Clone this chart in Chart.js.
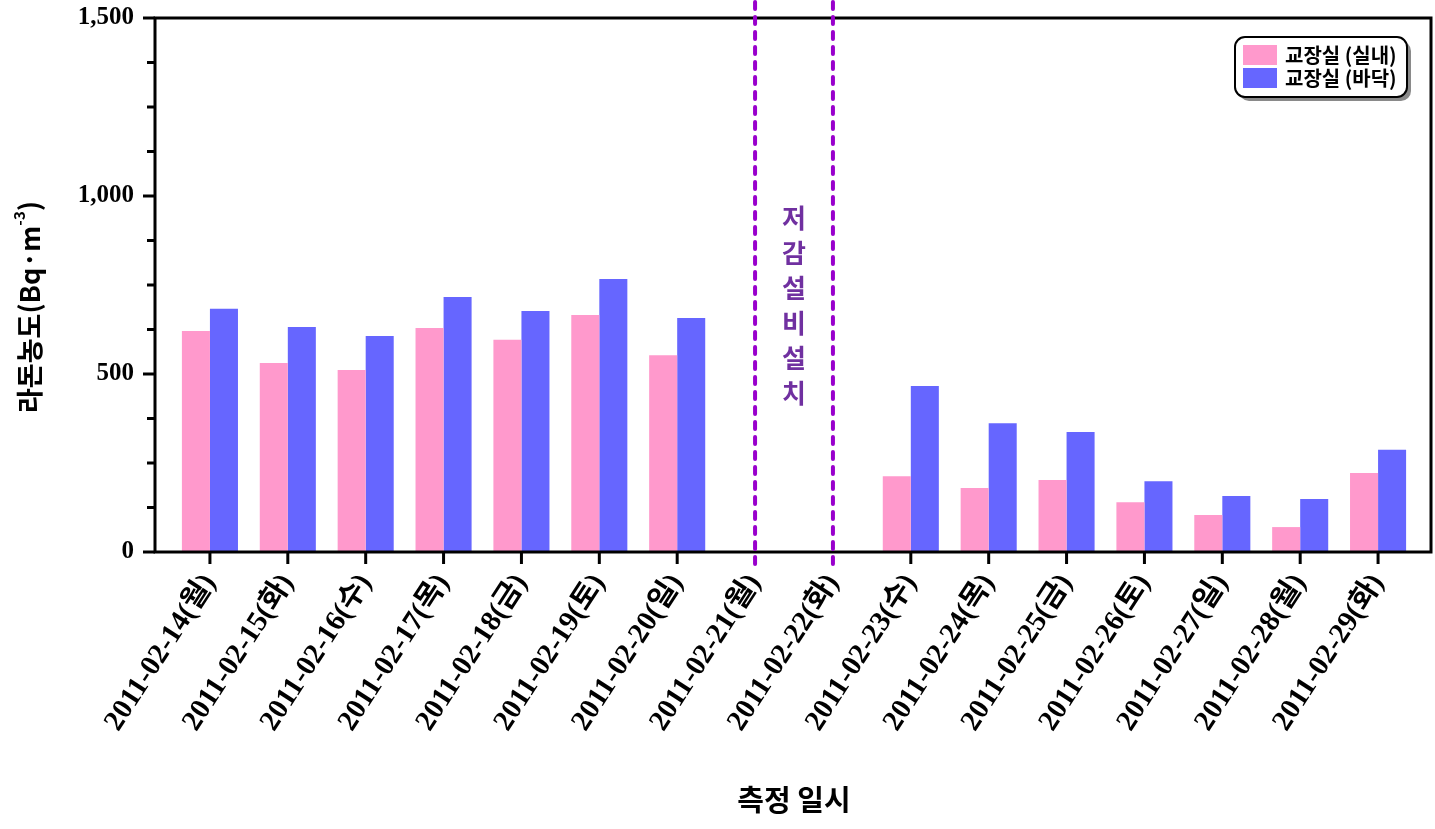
<!DOCTYPE html>
<html>
<head>
<meta charset="utf-8">
<script src="https://cdn.jsdelivr.net/npm/chart.js@4/dist/chart.umd.min.js"></script>
<style>
  body { margin: 0; background: #fff; }
  #wrap { width: 1435px; height: 829px; position: relative; }
</style>
</head>
<body>
<div id="wrap"><canvas id="radonChart"></canvas></div>
<script>
// measurement dates
const dates = [
  "2011-02-14(월)", "2011-02-15(화)", "2011-02-16(수)", "2011-02-17(목)",
  "2011-02-18(금)", "2011-02-19(토)", "2011-02-20(일)", "2011-02-21(월)",
  "2011-02-22(화)", "2011-02-23(수)", "2011-02-24(목)", "2011-02-25(금)",
  "2011-02-26(토)", "2011-02-27(일)", "2011-02-28(월)", "2011-02-29(화)"
];
// radon concentration (Bq/m3)
const indoorValues = [621, 531, 511, 629, 596, 666, 553, null, null, 213, 180, 202, 140, 104, 70, 222];
const floorValues = [683, 632, 607, 716, 677, 767, 657, null, null, 466, 362, 337, 199, 157, 149, 287];
const seriesNames = ["교장실 (실내)", "교장실 (바닥)"];
const yTicks = [0, 500, 1000, 1500];
const installIdx = [7, 8];
const installText = "저감설비설치";
const yTitle = ["라돈농도(Bq·m", "-3", ")"];
const xTitle = "측정 일시";

const PINK = "#ff99cc";
const BLUE = "#6666ff";
const PURPLE = "#9900cc";

// frame, ticks, dashed lines, legend, y title
const decorPlugin = {
  id: "decor",
  afterDraw(chart) {
    const { ctx, chartArea: a, scales } = chart;
    const xs = scales.x, ys = scales.y;
    const L = a.left - 16, R = a.right + 14, T = a.top, B = a.bottom;
    ctx.save();

    // frame
    ctx.strokeStyle = "#000";
    ctx.lineWidth = 3;
    ctx.strokeRect(L, T, R - L, B - T);

    // y ticks (major every 500, minor every 125)
    ys.ticks.forEach((t) => {
      const y = ys.getPixelForValue(t.value);
      const len = yTicks.includes(t.value) ? 12 : 8;
      ctx.beginPath();
      ctx.moveTo(L - len, y);
      ctx.lineTo(L, y);
      ctx.stroke();
    });

    // x ticks
    dates.forEach((d, i) => {
      if (installIdx.includes(i)) return;
      const x = xs.getPixelForValue(i);
      ctx.beginPath();
      ctx.moveTo(x, B);
      ctx.lineTo(x, B + 12);
      ctx.stroke();
    });

    // dashed install lines
    ctx.strokeStyle = PURPLE;
    ctx.lineWidth = 4;
    ctx.lineCap = "round";
    ctx.setLineDash([7, 8]);
    installIdx.forEach((i) => {
      const x = xs.getPixelForValue(i);
      ctx.beginPath();
      ctx.moveTo(x, 2);
      ctx.lineTo(x, B + 18);
      ctx.stroke();
    });
    ctx.setLineDash([]);
    ctx.lineCap = "butt";

    // vertical note
    const midX = (xs.getPixelForValue(installIdx[0]) + xs.getPixelForValue(installIdx[1])) / 2;
    ctx.fillStyle = "#7030a0";
    ctx.font = "bold 26px 'Noto Sans CJK KR'";
    ctx.textAlign = "center";
    ctx.textBaseline = "middle";
    Array.from(installText).forEach((ch, k) => {
      ctx.fillText(ch, midX, a.top + 200 + k * 35);
    });

    // legend box
    const bx = R - 196, by = 37, bw = 172, bh = 60, r = 10;
    ctx.fillStyle = "#8a8a8a";
    ctx.beginPath();
    ctx.roundRect(bx + 4, by + 4, bw, bh, r);
    ctx.fill();
    ctx.fillStyle = "#fff";
    ctx.strokeStyle = "#000";
    ctx.lineWidth = 2;
    ctx.beginPath();
    ctx.roundRect(bx, by, bw, bh, r);
    ctx.fill();
    ctx.stroke();
    ctx.font = "bold 20px 'Noto Sans CJK KR'";
    ctx.textAlign = "left";
    ctx.textBaseline = "middle";
    chart.data.datasets.forEach((ds, k) => {
      const yy = by + 8 + k * 23;
      ctx.fillStyle = ds.backgroundColor;
      ctx.fillRect(bx + 8, yy, 34, 20);
      ctx.fillStyle = "#000";
      ctx.fillText(ds.label, bx + 50, yy + 10);
    });

    // y title, rotated, with superscript
    ctx.translate(30, 307);
    ctx.rotate(-Math.PI / 2);
    const big = "bold 27px 'Noto Sans CJK KR'";
    const small = "bold 15px 'Noto Sans CJK KR'";
    ctx.font = big;
    const w0 = ctx.measureText(yTitle[0]).width;
    const w2 = ctx.measureText(yTitle[2]).width;
    ctx.font = small;
    const w1 = ctx.measureText(yTitle[1]).width;
    let cx = -(w0 + w1 + w2) / 2;
    ctx.fillStyle = "#000";
    ctx.font = big;
    ctx.fillText(yTitle[0], cx, 0);
    cx += w0;
    ctx.font = small;
    ctx.fillText(yTitle[1], cx, -11);
    cx += w1;
    ctx.font = big;
    ctx.fillText(yTitle[2], cx, 0);

    ctx.restore();
  },
};

document.addEventListener("DOMContentLoaded", () => {
  const ctx = document.getElementById("radonChart").getContext("2d");

  const chartData = {
    labels: dates,
    datasets: [
      { label: seriesNames[0], data: indoorValues, backgroundColor: PINK },
      { label: seriesNames[1], data: floorValues, backgroundColor: BLUE },
    ],
  };

  new Chart(ctx, {
    type: "bar",
    data: chartData,
    plugins: [decorPlugin],
    options: {
      responsive: true,
      maintainAspectRatio: false,
      animation: false,
      layout: { padding: { top: 18, right: 18, bottom: 0, left: 0 } },
      datasets: {
        bar: { categoryPercentage: 0.72, barPercentage: 1.0 },
      },
      plugins: {
        legend: { display: false },
        tooltip: { enabled: false },
      },
      scales: {
        x: {
          offset: true,
          grid: { display: false, drawTicks: false },
          border: { display: false },
          ticks: {
            autoSkip: false,
            maxRotation: 57,
            minRotation: 57,
            padding: 16,
            color: "#000",
            font: { family: "'Liberation Serif', 'Noto Sans CJK KR', serif", size: 29, weight: "bold" },
          },
          title: {
            display: true,
            text: xTitle,
            color: "#000",
            padding: { top: 12, bottom: 12 },
            font: { family: "'Noto Sans CJK KR'", size: 29, weight: "bold" },
          },
          afterFit: (s) => {
            s.height = 277;
            s.paddingLeft = 0;
            s.paddingRight = 0;
          },
        },
        y: {
          min: 0,
          max: 1500,
          grid: { display: false, drawTicks: false },
          border: { display: false },
          ticks: {
            stepSize: 125,
            padding: 37,
            color: "#000",
            callback: (v) => (yTicks.includes(v) ? v.toLocaleString("en-US") : ""),
            font: { family: "'Liberation Serif', serif", size: 25, weight: "bold" },
          },
          afterFit: (s) => {
            s.width = 171;
            s.paddingTop = 0;
            s.paddingBottom = 0;
          },
        },
      },
    },
  });
});
</script>
</body>
</html>
